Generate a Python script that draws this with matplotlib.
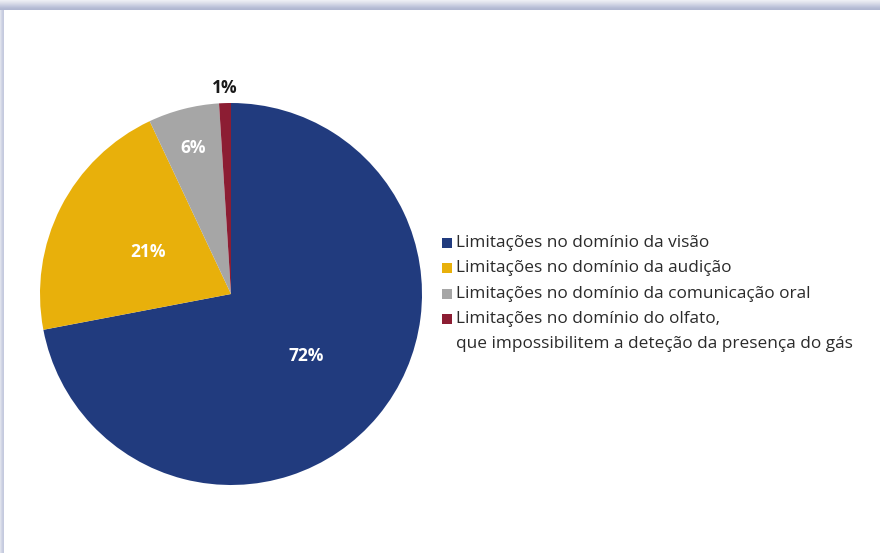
import matplotlib
matplotlib.use("Agg")
import matplotlib.pyplot as plt
from matplotlib.patches import Rectangle
import numpy as np

categories = [
    "Limitações no domínio da visão",
    "Limitações no domínio da audição",
    "Limitações no domínio da comunicação oral",
    "Limitações no domínio do olfato,\nque impossibilitem a deteção da presença do gás",
]
values = [72, 21, 6, 1]
labels = ["72%", "21%", "6%", "1%"]
colors = ["#213b7e", "#e8b00b", "#a6a6a6", "#8c1d33"]
label_colors = ["white", "white", "white", "#1a1a1a"]
label_r = [0.51, 0.49, 0.79, 1.08]

W, H = 880, 553
fig = plt.figure(figsize=(W / 100, H / 100), dpi=100)
fig.patch.set_facecolor("white")

# frame shadow (top and left)
top_cols = ["#eceef4", "#e6e8f0", "#dfe2ec", "#d8dbe8", "#d0d4e4", "#c8cde0", "#c0c6dc", "#b9bfd6", "#b3bad3", "#b0b7d1"]
for i, c in enumerate(top_cols):
    fig.patches.append(Rectangle((0, 1 - (i + 1) / H), 1, 1 / H, transform=fig.transFigure,
                                 facecolor=c, edgecolor="none"))
left_cols = ["#dfe2ec", "#d3d7e6", "#c9cee1", "#c5cade"]
for i, c in enumerate(left_cols):
    fig.patches.append(Rectangle((i / W, 0), 1 / W, 1 - 10 / H, transform=fig.transFigure,
                                 facecolor=c, edgecolor="none"))

cx, cy, R = 231, H - 294, 191
ax = fig.add_axes([(cx - R) / W, (cy - R) / H, 2 * R / W, 2 * R / H])
wedges, _ = ax.pie(values, colors=colors, startangle=90, counterclock=False,
                   radius=1, wedgeprops=dict(linewidth=0))
ax.set_xlim(-1, 1)
ax.set_ylim(-1, 1)
ax.set_aspect("equal")
ax.axis("off")

total = sum(values)
cum = 0
for v, lab, lc, r in zip(values, labels, label_colors, label_r):
    mid = 90 - 360 * (cum + v / 2) / total
    cum += v
    a = np.deg2rad(mid)
    ax.text(r * np.cos(a), r * np.sin(a), lab, ha="center", va="center",
            color=lc, fontsize=12.5, fontweight="bold", family="Open Sans", clip_on=False)

# legend
lx = 447
row_y = [243, 268, 294, 319]
line_gap = 25
for cat, col, y in zip(categories, colors, row_y):
    fig.patches.append(Rectangle(((lx - 5) / W, (H - y - 5) / H), 10 / W, 10 / H,
                                 transform=fig.transFigure, facecolor=col, edgecolor="none"))
    lines = cat.split("\n")
    for j, ln in enumerate(lines):
        fig.text(456 / W, (H - (y + j * line_gap)) / H, ln, ha="left", va="center",
                 fontsize=12.4, color="#2b2b2b", family="Open Sans")

fig.savefig("out.png", dpi=100)
